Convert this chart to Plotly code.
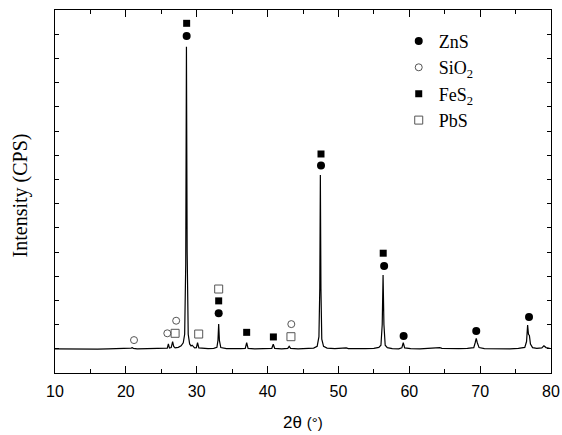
import plotly.graph_objects as go

# XRD trace (2θ, intensity in arbitrary units)
two_theta = [10, 11.5, 13, 14.5, 16, 17.5, 19, 20.3, 20.75, 20.9, 21.05, 21.6, 23, 24.5, 25.5,
             25.85, 26.0, 26.15, 26.4, 26.6, 26.75, 26.95, 27.4, 27.8, 28.1, 28.3, 28.45, 28.55,
             28.65, 28.8, 29.0, 29.2, 29.35, 29.5, 29.7, 29.95, 30.12, 30.3, 30.8, 31.6, 32.4,
             32.85, 33.0, 33.1, 33.2, 33.4, 34.2, 35.2, 36.2, 36.85, 37.05, 37.25, 38.2, 39.4,
             40.6, 40.8, 41.0, 42.0, 42.85, 43.05, 43.25, 44.3, 45.5, 46.5, 47.0, 47.25, 47.37,
             47.45, 47.53, 47.65, 47.9, 48.4, 49.5, 50.8, 51.1, 51.4, 52.5, 53.8, 55.0, 55.7,
             56.0, 56.18, 56.3, 56.42, 56.6, 56.9, 57.6, 58.5, 58.95, 59.15, 59.35, 60.2, 61.5,
             62.8, 64.0, 64.3, 64.6, 65.8, 67.0, 68.2, 69.1, 69.3, 69.45, 69.6, 69.85, 70.6,
             71.8, 73.0, 74.2, 75.4, 76.3, 76.55, 76.7, 76.82, 76.95, 77.1, 77.4, 78.0, 78.7,
             79.0, 79.3, 79.8]
intensity = [1.00, 0.99, 1.01, 1.00, 0.99, 1.00, 1.01, 1.00, 1.03, 1.05, 1.02, 1.00, 1.01, 1.00, 1.02,
             1.03, 1.20, 1.03, 1.05, 1.30, 1.10, 1.04, 1.06, 1.12, 1.25, 1.60, 4.50, 13.48,
             5.00, 1.60, 1.20, 1.12, 1.15, 1.10, 1.04, 1.05, 1.25, 1.04, 1.02, 1.01, 1.02,
             1.06, 1.35, 2.02, 1.35, 1.05, 1.01, 1.00, 1.01, 1.02, 1.25, 1.02, 1.00, 1.01,
             1.02, 1.19, 1.02, 1.00, 1.02, 1.10, 1.02, 1.00, 1.01, 1.03, 1.10, 1.50, 3.50,
             8.18, 3.50, 1.40, 1.10, 1.03, 1.01, 1.02, 1.04, 1.01, 1.00, 1.01, 1.02, 1.06,
             1.15, 2.00, 4.05, 2.00, 1.15, 1.05, 1.01, 1.00, 1.04, 1.25, 1.04, 1.01, 1.00,
             1.01, 1.02, 1.05, 1.02, 1.00, 1.01, 1.02, 1.05, 1.25, 1.43, 1.25, 1.05, 1.01,
             1.00, 1.01, 1.00, 1.02, 1.06, 1.30, 1.98, 1.60, 1.55, 1.20, 1.05, 1.02, 1.04,
             1.12, 1.05, 1.02]

# Phase markers
zns_x = [28.58, 33.1, 47.54, 56.45, 59.2, 69.45, 76.9]
zns_y = [13.93, 2.47, 8.57, 4.42, 1.53, 1.74, 2.31]
sio2_x = [21.15, 25.85, 27.1, 43.35]
sio2_y = [1.36, 1.64, 2.16, 2.02]
fes2_x = [28.58, 33.1, 37.05, 40.82, 47.54, 56.32]
fes2_y = [14.45, 2.98, 1.68, 1.49, 9.05, 4.95]
pbs_x = [26.95, 30.28, 33.1, 43.3]
pbs_y = [1.64, 1.61, 3.47, 1.50]

x_ticks = [10, 20, 30, 40, 50, 60, 70, 80]

fig = go.Figure()
fig.add_trace(go.Scatter(x=two_theta, y=intensity, mode="lines",
                         line=dict(color="black", width=1.2), showlegend=False))
fig.add_trace(go.Scatter(x=zns_x, y=zns_y, mode="markers", name="ZnS", legendgroup="a",
                         marker=dict(symbol="circle", size=8, color="black")))
fig.add_trace(go.Scatter(x=sio2_x, y=sio2_y, mode="markers", name="SiO<sub>2</sub>", legendgroup="b",
                         marker=dict(symbol="circle-open", size=7, color="#555555", line=dict(width=1))))
fig.add_trace(go.Scatter(x=fes2_x, y=fes2_y, mode="markers", name="FeS<sub>2</sub>", legendgroup="c",
                         marker=dict(symbol="square", size=7, color="black")))
fig.add_trace(go.Scatter(x=pbs_x, y=pbs_y, mode="markers", name="PbS", legendgroup="d",
                         marker=dict(symbol="square-open", size=8, color="#555555", line=dict(width=1))))

fig.update_layout(
    width=562, height=435,
    margin=dict(l=55, r=11, t=10, b=62, autoexpand=False),
    paper_bgcolor="white", plot_bgcolor="white",
    legend=dict(x=0.693, y=0.965, xanchor="left", yanchor="top",
                font=dict(family="Liberation Serif", size=18, color="black"),
                tracegroupgap=0, bgcolor="rgba(0,0,0,0)", itemwidth=30),
    xaxis=dict(range=[10, 80], tickvals=x_ticks, ticktext=[str(v) for v in x_ticks],
               ticks="inside", ticklen=7, tickwidth=1, tickcolor="black",
               minor=dict(dtick=5, tick0=0, ticks="inside", ticklen=4, tickcolor="black"),
               showline=True, linecolor="black", linewidth=1.2, mirror="allticks",
               showgrid=False, zeroline=False, automargin=False, ticklabelstandoff=4,
               tickfont=dict(family="Liberation Sans", size=16, color="black")),
    yaxis=dict(range=[0, 15], dtick=1, tick0=0, showticklabels=False,
               ticks="inside", ticklen=4, tickwidth=1, tickcolor="black",
               showline=True, linecolor="black", linewidth=1.2, mirror="allticks",
               showgrid=False, zeroline=False, automargin=False),
    annotations=[
        dict(text="2θ <span style='font-size:15px'>(°)</span>", xref="paper", yref="paper",
             x=0.5, y=-0.135, xanchor="center", yanchor="middle", showarrow=False,
             font=dict(family="Liberation Sans", size=17, color="black")),
        dict(text="Intensity (CPS)", xref="paper", yref="paper", textangle=-90,
             x=-0.07, y=0.49, xanchor="center", yanchor="middle", showarrow=False,
             font=dict(family="Liberation Serif", size=20, color="black")),
    ],
)

fig.write_html("out.html", config={"displayModeBar": False},
               post_script="document.body.style.margin='0';")
